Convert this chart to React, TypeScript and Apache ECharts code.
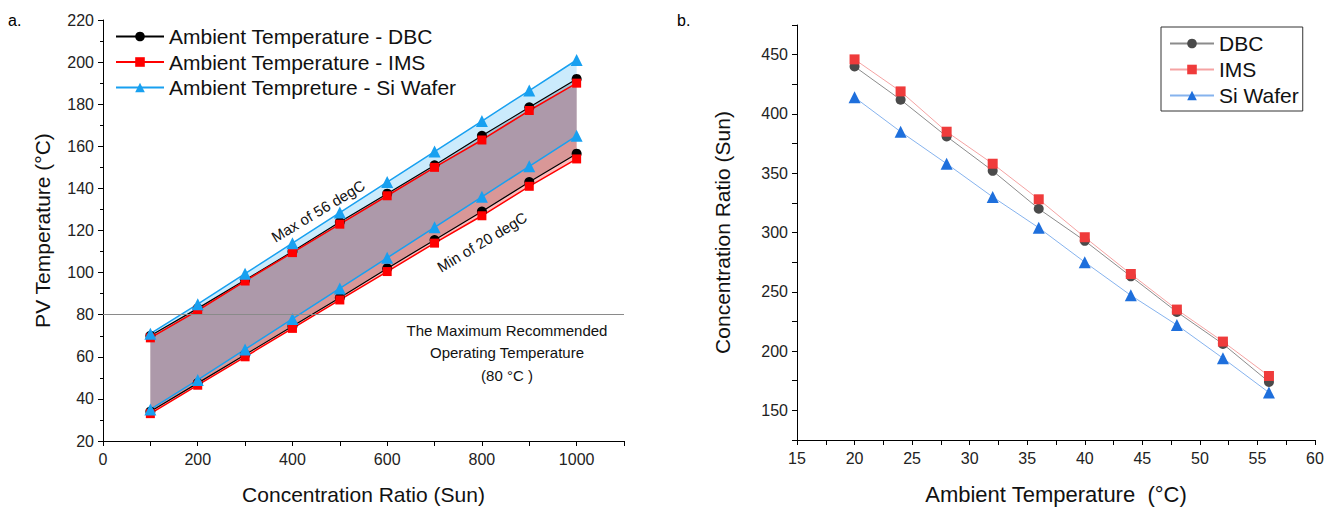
import React, { useEffect, useRef } from "react";
import * as echarts from "echarts";

// ---------- Data: panel a ----------
const concentration = [100, 200, 300, 400, 500, 600, 700, 800, 900, 1000];
const dbcMax = [70, 83, 96.5, 110, 124, 137.5, 151, 165, 178.5, 192];
const imsMax = [69, 82, 96, 109.5, 123, 136.5, 150, 163, 177, 190];
const siMax = [71, 85, 99.5, 114, 128.5, 143, 157.5, 172, 186.5, 201];
const dbcMin = [34, 47.5, 61, 74.5, 88, 102, 115.5, 129, 143, 156.5];
const imsMin = [33, 46.5, 60, 73.5, 87, 100.5, 114, 127, 141, 154];
const siMin = [35, 49, 63.5, 78, 92.5, 107, 121.5, 136, 150.5, 165];
const maxRecommended = 80;

// ---------- Data: panel b ----------
const ambient = [20, 24, 28, 32, 36, 40, 44, 48, 52, 56];
const dbcRatio = [440, 412, 381, 352, 320, 293, 263, 233, 206, 174];
const imsRatio = [446, 419, 385, 358, 328, 296, 265, 235, 208, 179];
const siRatio = [414, 385, 358, 330, 304, 275, 247, 222, 194, 165];

const seriesNamesA = [
  "Ambient Temperature - DBC",
  "Ambient Temperature - IMS",
  "Ambient Tempreture - Si Wafer",
];
const seriesNamesB = ["DBC", "IMS", "Si Wafer"];

const FONT = "Liberation Sans, Arial, sans-serif";

const zip = (xs: number[], ys: number[]) => xs.map((x, i) => [x, ys[i]]);

function bandSeries(upper: number[], lower: number[], fill: string) {
  return {
    type: "custom",
    xAxisIndex: 0,
    yAxisIndex: 0,
    silent: true,
    z: 1,
    data: [[concentration[0], upper[0]]],
    renderItem: (_params: any, api: any) => {
      const pts: number[][] = [];
      concentration.forEach((c, i) => pts.push(api.coord([c, upper[i]])));
      for (let i = concentration.length - 1; i >= 0; i--) {
        pts.push(api.coord([concentration[i], lower[i]]));
      }
      return {
        type: "polygon",
        shape: { points: pts },
        style: { fill, stroke: null },
      };
    },
  };
}

function lineA(name: string, ys: number[], color: string, symbol: string, size: number, width: number, extra: any = {}) {
  return {
    name,
    type: "line",
    xAxisIndex: 0,
    yAxisIndex: 0,
    data: zip(concentration, ys),
    symbol,
    symbolSize: size,
    lineStyle: { color, width },
    itemStyle: { color },
    z: 3,
    ...extra,
  };
}

function lineB(name: string, ys: number[], lineColor: string, markColor: string, symbol: string, size: number) {
  return {
    name,
    type: "line",
    xAxisIndex: 1,
    yAxisIndex: 1,
    data: zip(ambient, ys),
    symbol,
    symbolSize: size,
    lineStyle: { color: lineColor, width: 1 },
    itemStyle: { color: markColor },
    z: 3,
  };
}

const axisCommon = {
  axisLine: { show: true, onZero: false, lineStyle: { color: "#000", width: 1 } },
  axisTick: { show: true, length: 5, lineStyle: { color: "#000" } },
  splitLine: { show: false },
  axisLabel: { color: "#222", fontSize: 16, fontFamily: FONT },
  nameTextStyle: { color: "#111", fontSize: 21, fontFamily: FONT },
  nameLocation: "middle",
};

export default function App() {
  const ref = useRef<HTMLDivElement>(null);
  useEffect(() => {
    if (!ref.current) return;
    const chart = echarts.init(ref.current, null, { renderer: "svg" });
    const option: any = {
      animation: false,
      backgroundColor: "#fff",
      textStyle: { fontFamily: FONT },
      grid: [
        { left: 103, top: 20, width: 521, height: 422 },
        { left: 797, top: 25, width: 518, height: 419 },
      ],
      xAxis: [
        {
          ...axisCommon,
          gridIndex: 0,
          type: "value",
          min: 0,
          max: 1100,
          interval: 100,
          name: "Concentration Ratio (Sun)",
          nameGap: 43,
          axisLabel: {
            ...axisCommon.axisLabel,
            margin: 10,
            formatter: (v: number) => (v % 200 === 0 && v <= 1000 ? String(v) : ""),
          },
        },
        {
          ...axisCommon,
          gridIndex: 1,
          type: "value",
          min: 15,
          max: 60,
          interval: 2.5,
          name: "Ambient Temperature  (°C)",
          nameGap: 43,
          nameTextStyle: { ...axisCommon.nameTextStyle, fontSize: 22 },
          axisLabel: {
            ...axisCommon.axisLabel,
            margin: 10,
            formatter: (v: number) => (v % 5 === 0 ? String(v) : ""),
          },
        },
      ],
      yAxis: [
        {
          ...axisCommon,
          gridIndex: 0,
          type: "value",
          min: 20,
          max: 220,
          interval: 20,
          minorTick: { show: true, splitNumber: 2, length: 3, lineStyle: { color: "#000" } },
          name: "PV Temperature (°C)",
          nameGap: 50,
          axisLabel: { ...axisCommon.axisLabel, margin: 9 },
        },
        {
          ...axisCommon,
          gridIndex: 1,
          type: "value",
          min: 125,
          max: 475,
          interval: 25,
          name: "Concentration Ratio (Sun)",
          nameGap: 64,
          axisLabel: {
            ...axisCommon.axisLabel,
            margin: 9,
            formatter: (v: number) => (v % 50 === 0 ? String(v) : ""),
          },
        },
      ],
      legend: [
        {
          data: seriesNamesA,
          orient: "vertical",
          left: 110,
          top: 21,
          itemWidth: 48,
          itemHeight: 12,
          itemGap: 4.5,
          textStyle: { fontSize: 21, fontFamily: FONT, color: "#111" },
        },
        {
          data: seriesNamesB,
          orient: "vertical",
          left: 1161,
          top: 27,
          itemWidth: 44,
          itemHeight: 12,
          itemGap: 5,
          padding: [6, 4, 5, 8],
          borderColor: "#333",
          borderWidth: 1,
          textStyle: { fontSize: 21, fontFamily: FONT, color: "#111" },
        },
      ],
      series: [
        bandSeries(dbcMax, dbcMin, "rgba(0,0,0,0.2)"),
        bandSeries(imsMax, imsMin, "rgba(255,0,0,0.26)"),
        bandSeries(siMax, siMin, "rgba(20,165,240,0.22)"),
        lineA(seriesNamesA[0], dbcMax, "#000000", "circle", 10, 1.2, {
          markLine: {
            silent: true,
            symbol: "none",
            label: { show: false },
            lineStyle: { color: "#8a8a8a", width: 1, type: "solid" },
            data: [{ yAxis: maxRecommended }],
          },
        }),
        lineA(seriesNamesA[0], dbcMin, "#000000", "circle", 10, 1.2),
        lineA(seriesNamesA[1], imsMax, "#ff0000", "rect", 9, 1.5),
        lineA(seriesNamesA[1], imsMin, "#ff0000", "rect", 9, 1.5),
        lineA(seriesNamesA[2], siMax, "#18a0f0", "triangle", 12, 1.5),
        lineA(seriesNamesA[2], siMin, "#18a0f0", "triangle", 12, 1.5),
        lineB(seriesNamesB[0], dbcRatio, "#8c8c8c", "#4a4a4a", "circle", 10),
        lineB(seriesNamesB[1], imsRatio, "#f5a3a3", "#ef3b3b", "rect", 10),
        lineB(seriesNamesB[2], siRatio, "#86b3ee", "#1e6fdc", "triangle", 12),
      ],
      graphic: [
        { type: "text", left: 8, top: 12, style: { text: "a.", fontSize: 16, fontFamily: FONT, fill: "#000" } },
        { type: "text", left: 677, top: 12, style: { text: "b.", fontSize: 16, fontFamily: FONT, fill: "#000" } },
        {
          type: "text",
          x: 318,
          y: 211,
          rotation: (31 * Math.PI) / 180,
          style: { text: "Max of 56 degC", fontSize: 15, fontFamily: FONT, fill: "#111", align: "center", verticalAlign: "middle" },
        },
        {
          type: "text",
          x: 482,
          y: 242,
          rotation: (31 * Math.PI) / 180,
          style: { text: "Min of 20 degC", fontSize: 15, fontFamily: FONT, fill: "#111", align: "center", verticalAlign: "middle" },
        },
        {
          type: "text",
          x: 507,
          y: 319,
          style: {
            text: "The Maximum Recommended\nOperating Temperature\n(80 °C )",
            fontSize: 15,
            lineHeight: 22.5,
            fontFamily: FONT,
            fill: "#111",
            align: "center",
            verticalAlign: "top",
          },
        },
      ],
    };
    chart.setOption(option);
    return () => chart.dispose();
  }, []);
  return (
    <div
      ref={ref}
      style={{ position: "fixed", left: 0, top: 0, width: 1338, height: 510 }}
    />
  );
}
